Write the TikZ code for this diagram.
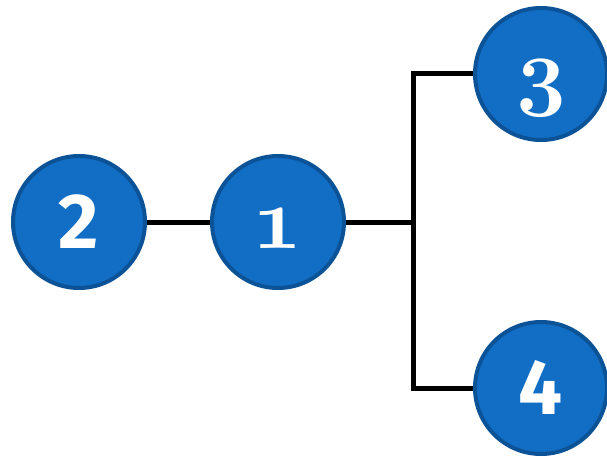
\documentclass[tikz,border=0pt]{standalone}
\usepackage{fontspec}
\newfontfamily\numsans{Fira Sans}
\newfontfamily\numold[Numbers=OldStyle]{Latin Modern Roman}
\definecolor{nodefill}{RGB}{17,110,196}
\definecolor{nodeline}{RGB}{11,82,150}
\begin{document}
\begin{tikzpicture}[x=1pt,y=-1pt]

\def\rad{66pt}
\def\forkx{413}

\tikzset{num/.style = {draw=nodeline, fill=nodefill, circle, line width=4pt, minimum size=2*\rad, inner sep=0pt, text=white, text height=52pt, text depth=0pt},
         sansnum/.style = {num, font=\fontsize{78}{78}\numsans\bfseries},
         oldnum/.style = {num, font=\fontsize{88}{88}\numold\bfseries}}

\useasboundingbox (0,0) rectangle (607,457);

\node[sansnum] (N2) at (79,222) {2};
\node[oldnum] (N1) at (278,222) {1};
\node[oldnum] (N3) at (541,74) {3};
\node[sansnum] (N4) at (541,388) {4};

\coordinate (F1) at (\forkx,222);
\coordinate (F3) at (\forkx,74);
\coordinate (F4) at (\forkx,388);

\draw[line width=5pt] (N2) -- (N1);
\draw[line width=5pt] (N1) -- (F1);
\draw[line width=5pt] (N3) -- (F3) -- (F4) -- (N4);

\end{tikzpicture}
\end{document}
